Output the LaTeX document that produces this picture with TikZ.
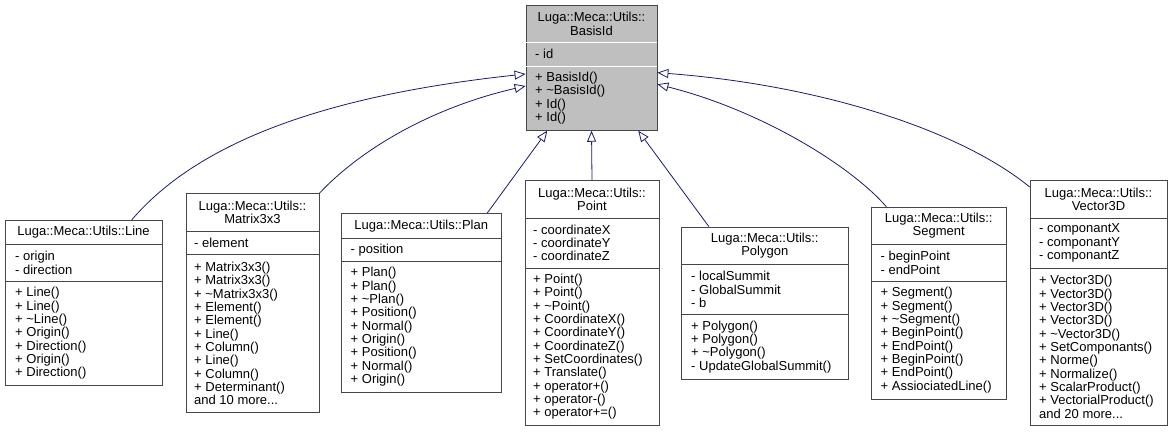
\documentclass[tikz,border=0pt]{standalone}
\usepackage{fontspec}
\setmainfont{Liberation Sans}
\usetikzlibrary{arrows.meta,calc}
\definecolor{basegray}{RGB}{191,191,191}
\definecolor{edgeblue}{RGB}{25,25,112}
\definecolor{boxline}{RGB}{70,70,70}
\newcommand\dgfont{\fontsize{13}{13.33}\selectfont\lineskiplimit=-20pt\relax}
\begin{document}
\begin{tikzpicture}[x=1pt,y=-1pt,
  cls/.style={draw=boxline, line width=0.8pt, fill=white, inner sep=0pt},
  basecls/.style={cls, fill=basegray},
  sepline/.style={draw=boxline, line width=0.8pt},
  basesep/.style={draw=white, line width=0.8pt},
  txt/.style={inner sep=0pt, font=\dgfont, text=black},
  ttl/.style={txt, align=center},
  mem/.style={txt, align=left, anchor=west},
  inherit/.style={draw=edgeblue, line width=0.8pt, -{Triangle[open, length=11pt, width=9pt]}},
]
\useasboundingbox (0,0) rectangle (1173,432);

% ---- base class
\node[basecls, minimum width=131pt, minimum height=125.33pt] (base) at (591.5,67.67) {};
\draw[basesep] (526.4,42.67) -- (656.6,42.67);
\draw[basesep] (526.4,66) -- (656.6,66);
\node[ttl] (baset) at (591.5,23.83) {Luga::Meca::Utils::\\BasisId};
\node[mem] (basef) at (535,54.33) {- id};
\node[mem] (basem) at (535,98.17) {+ BasisId()\\+ \textasciitilde BasisId()\\+ Id()\\+ Id()};

% ---- Line
\node[cls, minimum width=157pt, minimum height=165.33pt] (line) at (83.5,303) {};
\draw[sepline] (5,244.67) -- (162,244.67);
\draw[sepline] (5,281.33) -- (162,281.33);
\node[ttl] (linet) at (83.5,232.5) {Luga::Meca::Utils::Line};
\node[mem] (linef) at (15,263) {- origin\\- direction};
\node[mem] (linem) at (15,333.5) {+ Line()\\+ Line()\\+ \textasciitilde Line()\\+ Origin()\\+ Direction()\\+ Origin()\\+ Direction()};

% ---- Matrix3x3
\node[cls, minimum width=133pt, minimum height=218.67pt] (mat) at (252.5,303) {};
\draw[sepline] (186,231.33) -- (319,231.33);
\draw[sepline] (186,254.67) -- (319,254.67);
\node[ttl] (matt) at (252.5,212.5) {Luga::Meca::Utils::\\Matrix3x3};
\node[mem] (matf) at (194,243) {- element};
\node[mem] (matm) at (194,333.5) {+ Matrix3x3()\\+ Matrix3x3()\\+ \textasciitilde Matrix3x3()\\+ Element()\\+ Element()\\+ Line()\\+ Column()\\+ Line()\\+ Column()\\+ Determinant()\\and 10 more...};

% ---- Plan
\node[cls, minimum width=159.5pt, minimum height=178.67pt] (plan) at (421.25,303) {};
\draw[sepline] (341.5,238) -- (501,238);
\draw[sepline] (341.5,261.33) -- (501,261.33);
\node[ttl] (plant) at (421.25,225.83) {Luga::Meca::Utils::Plan};
\node[mem] (planf) at (350.5,249.67) {- position};
\node[mem] (planm) at (350.5,326.83) {+ Plan()\\+ Plan()\\+ \textasciitilde Plan()\\+ Position()\\+ Normal()\\+ Origin()\\+ Position()\\+ Normal()\\+ Origin()};

% ---- Point
\node[cls, minimum width=134pt, minimum height=245.33pt] (point) at (592,303) {};
\draw[sepline] (525,218) -- (659,218);
\draw[sepline] (525,268) -- (659,268);
\node[ttl] (pointt) at (592,199.17) {Luga::Meca::Utils::\\Point};
\node[mem] (pointf) at (533,243) {- coordinateX\\- coordinateY\\- coordinateZ};
\node[mem] (pointm) at (533,346.83) {+ Point()\\+ Point()\\+ \textasciitilde Point()\\+ CoordinateX()\\+ CoordinateY()\\+ CoordinateZ()\\+ SetCoordinates()\\+ Translate()\\+ operator+()\\+ operator-()\\+ operator+=()};

% ---- Polygon
\node[cls, minimum width=166.5pt, minimum height=152pt] (polygon) at (764.75,303) {};
\draw[sepline] (681.5,264.67) -- (848,264.67);
\draw[sepline] (681.5,314.67) -- (848,314.67);
\node[ttl] (polygont) at (764.75,245.83) {Luga::Meca::Utils::\\Polygon};
\node[mem] (polygonf) at (691,289.67) {- localSummit\\- GlobalSummit\\- b};
\node[mem] (polygonm) at (691,346.83) {+ Polygon()\\+ Polygon()\\+ \textasciitilde Polygon()\\- UpdateGlobalSummit()};

% ---- Segment
\node[cls, minimum width=134.5pt, minimum height=192pt] (segment) at (938.75,303) {};
\draw[sepline] (871.5,244.67) -- (1006,244.67);
\draw[sepline] (871.5,281.33) -- (1006,281.33);
\node[ttl] (segmentt) at (938.75,225.83) {Luga::Meca::Utils::\\Segment};
\node[mem] (segmentf) at (880.5,263) {- beginPoint\\- endPoint};
\node[mem] (segmentm) at (880.5,340.17) {+ Segment()\\+ Segment()\\+ \textasciitilde Segment()\\+ BeginPoint()\\+ EndPoint()\\+ BeginPoint()\\+ EndPoint()\\+ AssiociatedLine()};

% ---- Vector3D
\node[cls, minimum width=137pt, minimum height=245.33pt] (vector) at (1098.5,303) {};
\draw[sepline] (1030,218) -- (1167,218);
\draw[sepline] (1030,268) -- (1167,268);
\node[ttl] (vectort) at (1098.5,199.17) {Luga::Meca::Utils::\\Vector3D};
\node[mem] (vectorf) at (1039,243) {- componantX\\- componantY\\- componantZ};
\node[mem] (vectorm) at (1039,346.83) {+ Vector3D()\\+ Vector3D()\\+ Vector3D()\\+ Vector3D()\\+ \textasciitilde Vector3D()\\+ SetComponants()\\+ Norme()\\+ Normalize()\\+ ScalarProduct()\\+ VectorialProduct()\\and 20 more...};

% ---- inheritance edges
\draw[inherit] ([xshift=48.2pt]line.north) .. controls (200,140) and (330,95) .. ([yshift=-6.3pt]base.west);
\draw[inherit] (mat.north east) .. controls (360,150) and (430,108) .. ([yshift=-18.3pt]base.west);
\draw[inherit] ([xshift=-14.3pt]plan.north east) -- ([xshift=-44.2pt]base.south);
\draw[inherit] (point.north) -- (base.south);
\draw[inherit] ([xshift=27.8pt]polygon.north west) -- ([xshift=46.8pt]base.south);
\draw[inherit] ([xshift=15.2pt]segment.north west) .. controls (850,165) and (760,110) .. ([yshift=-16.6pt]base.east);
\draw[inherit] ([yshift=-7pt]vector.north west) .. controls (960,130) and (820,85) .. ([yshift=-5pt]base.east);
\end{tikzpicture}
\end{document}
